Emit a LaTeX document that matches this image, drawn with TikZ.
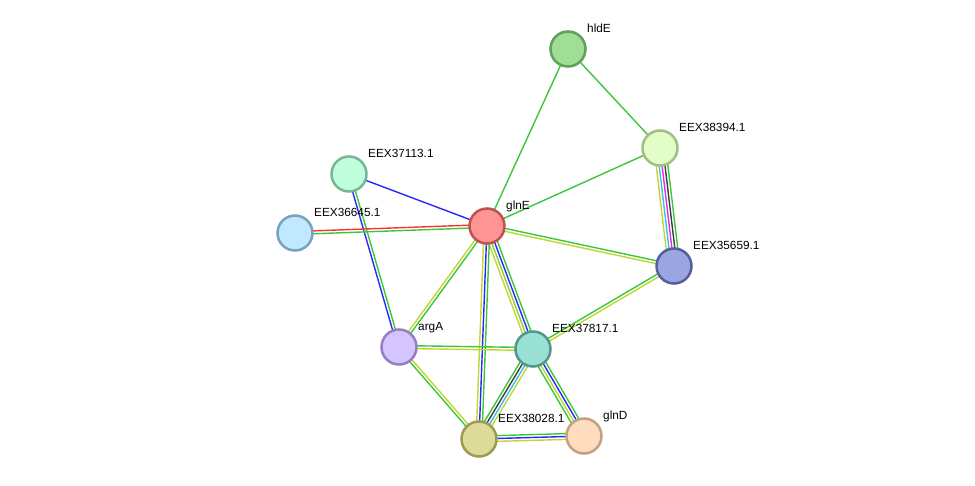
\documentclass[tikz,border=0pt]{standalone}
\usepackage{fontspec}
\setmainfont{Liberation Sans}
\usetikzlibrary{calc,backgrounds}

\definecolor{nbgreen}{RGB}{58,200,58}
\definecolor{tmyellow}{RGB}{196,212,50}
\definecolor{coblue}{RGB}{40,40,250}
\definecolor{dbcyan}{RGB}{60,190,235}
\definecolor{exmagenta}{RGB}{220,50,220}
\definecolor{cxgray}{RGB}{60,60,60}
\definecolor{fured}{RGB}{250,50,50}

\tikzset{
  prot/.style={circle, minimum size=35pt, inner sep=0pt, line width=2.5pt},
  lbl/.style={anchor=base west, inner sep=0pt, font=\fontsize{11.8}{13}\selectfont},
  edge/.style={line width=1.4pt}
}

% parallel coloured lines between two nodes
\newcommand{\linkedge}[3]{%
  \foreach \c [count=\k] in {#3} {\xdef\nlin{\k}}%
  \foreach \c [count=\k] in {#3} {%
    \pgfmathsetmacro{\off}{(\k-(\nlin+1)/2)*2.9}%
    \draw[edge,\c] ($(#1)!\off pt!90:(#2)$) -- ($(#2)!\off pt!-90:(#1)$);
  }%
}

\begin{document}
\begin{tikzpicture}[x=1pt,y=-1pt]
\useasboundingbox (0,0) rectangle (975,485);

\node[prot, fill={rgb,255:red,160;green,222;blue,152}, draw={rgb,255:red,96;green,160;blue,88}] (hldE) at (568,49) {};
\node[prot, fill={rgb,255:red,226;green,253;blue,200}, draw={rgb,255:red,162;green,190;blue,132}] (eex38394) at (660,148) {};
\node[prot, fill={rgb,255:red,192;green,255;blue,220}, draw={rgb,255:red,122;green,182;blue,150}] (eex37113) at (349,174) {};
\node[prot, fill={rgb,255:red,192;green,232;blue,255}, draw={rgb,255:red,122;green,162;blue,190}] (eex36645) at (295,233) {};
\node[prot, fill={rgb,255:red,255;green,148;blue,148}, draw={rgb,255:red,190;green,82;blue,82}] (glnE) at (487,226) {};
\node[prot, fill={rgb,255:red,155;green,165;blue,225}, draw={rgb,255:red,85;green,95;blue,160}] (eex35659) at (674,266) {};
\node[prot, fill={rgb,255:red,212;green,196;blue,255}, draw={rgb,255:red,150;green,126;blue,192}] (argA) at (399,347) {};
\node[prot, fill={rgb,255:red,152;green,225;blue,212}, draw={rgb,255:red,82;green,150;blue,140}] (eex37817) at (533,349) {};
\node[prot, fill={rgb,255:red,222;green,218;blue,152}, draw={rgb,255:red,155;green,155;blue,82}] (eex38028) at (479,439) {};
\node[prot, fill={rgb,255:red,255;green,220;blue,190}, draw={rgb,255:red,192;green,162;blue,132}] (glnD) at (584,436) {};

\begin{scope}[on background layer]
\linkedge{hldE}{glnE}{nbgreen}
\linkedge{hldE}{eex38394}{nbgreen}
\linkedge{eex38394}{glnE}{nbgreen}
\linkedge{eex38394}{eex35659}{tmyellow,dbcyan,exmagenta,cxgray,nbgreen}
\linkedge{eex37113}{glnE}{coblue}
\linkedge{eex37113}{argA}{coblue,nbgreen}
\linkedge{eex36645}{glnE}{nbgreen,fured}
\linkedge{glnE}{eex35659}{tmyellow,nbgreen}
\linkedge{glnE}{argA}{tmyellow,nbgreen}
\linkedge{glnE}{eex37817}{tmyellow,tmyellow!60!nbgreen,coblue,nbgreen}
\linkedge{glnE}{eex38028}{tmyellow,coblue,nbgreen}
\linkedge{argA}{eex37817}{tmyellow,nbgreen}
\linkedge{argA}{eex38028}{nbgreen,tmyellow}
\linkedge{eex35659}{eex37817}{nbgreen,tmyellow}
\linkedge{eex37817}{eex38028}{nbgreen,cxgray,dbcyan,tmyellow}
\linkedge{eex37817}{glnD}{nbgreen,tmyellow,coblue,nbgreen}
\linkedge{eex38028}{glnD}{tmyellow,coblue,nbgreen}
\end{scope}

\node[lbl] (l1) at ($(hldE)+(19,-17)$) {hldE};
\node[lbl] (l2) at ($(eex38394)+(19,-17)$) {EEX38394.1};
\node[lbl] (l3) at ($(eex37113)+(19,-17)$) {EEX37113.1};
\node[lbl] (l4) at ($(eex36645)+(19,-17)$) {EEX36645.1};
\node[lbl] (l5) at ($(glnE)+(19,-17)$) {glnE};
\node[lbl] (l6) at ($(eex35659)+(19,-17)$) {EEX35659.1};
\node[lbl] (l7) at ($(argA)+(19,-17)$) {argA};
\node[lbl] (l8) at ($(eex37817)+(19,-17)$) {EEX37817.1};
\node[lbl] (l9) at ($(eex38028)+(19,-17)$) {EEX38028.1};
\node[lbl] (l10) at ($(glnD)+(19,-17)$) {glnD};
\end{tikzpicture}
\end{document}
